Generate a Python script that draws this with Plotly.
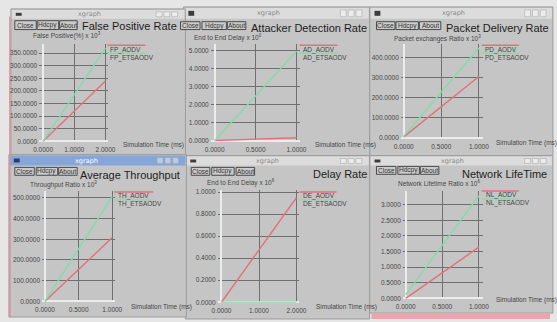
import plotly.graph_objects as go

W, H = 557, 322

# ---- series values -------------------------------------------------------
fp_time = [0, 1, 2]
fp_aodv = [0, 120, 240]
fp_etsaodv = [0, 185, 370]

ad_time = [0, 0.5, 1]
ad_aodv = [0.02, 0.09, 0.17]
ad_etsaodv = [0, 2.47, 4.95]

pd_time = [0, 0.5, 1]
pd_aodv = [5, 155, 305]
pd_etsaodv = [8, 228, 447]

th_time = [0, 0.5, 1]
th_aodv = [0, 155, 308]
th_etsaodv = [0, 254, 508]

de_time = [0, 1, 2]
de_aodv = [0, 0.475, 0.95]
de_etsaodv = [0, 0, 0]

nl_time = [0, 0.5, 1]
nl_aodv = [0, 0.82, 1.64]
nl_etsaodv = [0.12, 1.7, 3.29]

titles = ["False Positive Rate", "Attacker Detection Rate", "Packet Delivery Rate",
          "Average Throughput", "Delay Rate", "Network LifeTime"]
y_titles = ["False Positive(%) x 10<sup>3</sup>", "End to End Delay x 10<sup>0</sup>",
            "Packet exchanges Ratio x 10<sup>3</sup>", "Throughput Ratio x 10<sup>3</sup>",
            "End to End Delay x 10<sup>6</sup>", "Network Lifetime Ratio x 10<sup>6</sup>"]
x_title = "Simulation Time (ms)"
series_names = [("FP_AODV", "FP_ETSAODV"), ("AD_AODV", "AD_ETSAODV"), ("PD_AODV", "PD_ETSAODV"),
                ("TH_AODV", "TH_ETSAODV"), ("DE_AODV", "DE_ETSAODV"), ("NL_AODV", "NL_ETSAODV")]
series = [(fp_time, fp_aodv, fp_etsaodv), (ad_time, ad_aodv, ad_etsaodv),
          (pd_time, pd_aodv, pd_etsaodv), (th_time, th_aodv, th_etsaodv),
          (de_time, de_aodv, de_etsaodv), (nl_time, nl_aodv, nl_etsaodv)]
x_steps = [1, 0.5, 0.5, 0.5, 1, 0.5]
y_steps = [50, 1, 100, 100, 0.2, 0.5]

# ---- layout of each xgraph window (pixels) --------------------------------
# axis calibration: (value0, pixel0, value1, pixel1); domains: (pixel start, pixel end)
panel_geom = [
    dict(xcal=(0, 37, 2, 101), ycal=(0, 141.5, 350, 52), xdom=(33, 104), ydom=(43, 142)),
    dict(xcal=(0, 213, 1, 297), ycal=(0, 141, 5, 49), xdom=(209, 301), ydom=(43, 141.5)),
    dict(xcal=(0, 407, 1, 484), ycal=(0, 138, 400, 56.3), xdom=(404, 488), ydom=(43, 138.5)),
    dict(xcal=(0, 39, 1, 108), ycal=(0, 304, 500, 199), xdom=(36, 111), ydom=(192, 304.5)),
    dict(xcal=(0, 220, 2, 297), ycal=(0, 305, 1, 193), xdom=(216, 300), ydom=(191, 305.5)),
    dict(xcal=(0, 409, 1, 484), ycal=(0, 301, 3, 206), xdom=(406, 488), ydom=(192, 301.5)),
]
# legend: (line x0, line x1, top line y, text x)
legend_geom = [(103, 142, 44, 104), (300, 339, 44, 302), (487, 525, 44, 488),
               (110, 150, 193, 112), (300, 338, 193, 302), (487, 525, 192, 489)]
title_pos = [(75, 24), (248, 26), (448, 26.5), (73, 176), (312, 174.5), (465, 174.5)]
ytitle_pos = [(25, 34.5), (190, 36), (395, 37.5), (22, 185), (203, 183.5), (399, 183.5)]
xtitle_pos = [(117, 145), (314, 145), (500, 143), (125, 310), (315, 310), (500, 303)]
# windows: x0, y0, x1, y1, title bar bottom, active, caption centre x
windows = [
    (372, 5, 560, 156, 17, False, 458),
    (181, 5, 372, 156, 17, False, 268),
    (4, 7, 183, 160, 17, False, 85),
    (372, 156, 560, 316, 166, False, 457),
    (183, 156, 372, 322, 166, False, 267),
    (2, 155, 184, 320, 166, True, 82),
]
buttons = [
    (19, 28, [(8, 30, "Close"), (31, 53, "Hdcpy"), (54, 72, "About")]),
    (20, 28, [(178, 198, "Close"), (200, 225, "Hdcpy"), (226, 245, "About")]),
    (20, 28, [(379, 398, "Close"), (399, 422, "Hdcpy"), (423, 445, "About")]),
    (168, 176, [(8, 28, "Close"), (30, 52, "Hdcpy"), (53, 72, "About")]),
    (168, 176, [(189, 208, "Close"), (210, 233, "Hdcpy"), (235, 254, "About")]),
    (167, 175, [(379, 399, "Close"), (401, 423, "Hdcpy"), (424, 443, "About")]),
]

RED = "#e2707c"
GREEN = "#82dcaa"
BODY = "#c5c5c5"
GRID = "#6f6f6f"
TICK = "#454545"
SMALL = dict(family="Liberation Sans, Arial, sans-serif", size=6.5, color=TICK)
TITLE = dict(family="Liberation Sans, Arial, sans-serif", size=11, color="#1e1e1e")


def fx(p):
    return p / W


def fy(p):
    return 1 - p / H


def cal(c, p):
    v0, p0, v1, p1 = c
    return v0 + (p - p0) * (v1 - v0) / (p1 - p0)


fig = go.Figure()
shapes = []
annotations = []

# window frames
for (x0, y0, x1, y1, tb, active, cx) in windows:
    shapes.append(dict(type="rect", xref="paper", yref="paper", layer="below",
                       x0=fx(x0), x1=fx(x1), y0=fy(y1), y1=fy(y0),
                       fillcolor=BODY, line=dict(color="#9c9c9c", width=1)))
    shapes.append(dict(type="rect", xref="paper", yref="paper", layer="below",
                       x0=fx(x0 + 1), x1=fx(x1 - 1), y0=fy(tb), y1=fy(y0 + 1),
                       fillcolor="#86a5d8" if active else "#dcdcdc", line=dict(width=0)))
    # window icon and the three frame buttons
    shapes.append(dict(type="rect", xref="paper", yref="paper", layer="below",
                       x0=fx(x0 + 5), x1=fx(x0 + 11), y0=fy(tb - 3), y1=fy(y0 + 4),
                       fillcolor="#3c3c3c" if not active else "#2a3f66", line=dict(width=0)))
    for k in range(3):
        bx = x1 - 30 + k * 8 if x1 < W else W - 26 + k * 8
        shapes.append(dict(type="rect", xref="paper", yref="paper", layer="below",
                           x0=fx(bx), x1=fx(bx + 6), y0=fy(tb - 2), y1=fy(y0 + 3),
                           fillcolor="#b9cbea" if active else "#ececec",
                           line=dict(color="#a0a0a0", width=0.5)))
    annotations.append(dict(text="xgraph", xref="paper", yref="paper", x=fx(cx), y=fy((y0 + tb) / 2 + 0.5),
                            xanchor="center", yanchor="middle", showarrow=False,
                            font=dict(family="DejaVu Sans, sans-serif", size=6.5,
                                      color="#ffffff" if active else "#8a8a8a")))

# pink strip along the bottom right and the left frame edge
shapes.append(dict(type="rect", xref="paper", yref="paper", layer="below",
                   x0=fx(374), x1=fx(W), y0=fy(H), y1=fy(316),
                   fillcolor="#e9a4ad", line=dict(width=0)))
shapes.append(dict(type="line", xref="paper", yref="paper", layer="below",
                   x0=fx(3), x1=fx(3), y0=fy(320), y1=fy(15),
                   line=dict(color="#d88f9d", width=1.5)))

# buttons
for (by0, by1, row) in buttons:
    for (bx0, bx1, lab) in row:
        shapes.append(dict(type="rect", xref="paper", yref="paper",
                           x0=fx(bx0), x1=fx(bx1), y0=fy(by1), y1=fy(by0),
                           fillcolor="#cbcbcb", line=dict(color="#4a4a4a", width=1)))
        annotations.append(dict(text=lab, xref="paper", yref="paper",
                                x=fx((bx0 + bx1) / 2), y=fy((by0 + by1) / 2),
                                xanchor="center", yanchor="middle", showarrow=False,
                                font=dict(family="Liberation Sans, Arial, sans-serif", size=6.5, color="#333333")))

layout_axes = {}
for i, g in enumerate(panel_geom):
    n = i + 1
    xa = "xaxis" if n == 1 else f"xaxis{n}"
    ya = "yaxis" if n == 1 else f"yaxis{n}"
    xr = "x" if n == 1 else f"x{n}"
    yr = "y" if n == 1 else f"y{n}"
    xrange = [cal(g["xcal"], g["xdom"][0]), cal(g["xcal"], g["xdom"][1])]
    yrange = [cal(g["ycal"], g["ydom"][1]), cal(g["ycal"], g["ydom"][0])]
    common = dict(showgrid=True, gridcolor=GRID, gridwidth=1, zeroline=True,
                  zerolinecolor="#ececec", zerolinewidth=1.5, showline=False,
                  ticks="", tickformat=".4f", tickfont=SMALL, tick0=0, fixedrange=True)
    layout_axes[xa] = dict(common, domain=[fx(g["xdom"][0]), fx(g["xdom"][1])],
                           range=xrange, dtick=x_steps[i], anchor=yr, ticklabelstandoff=3)
    layout_axes[ya] = dict(common, domain=[fy(g["ydom"][1]), fy(g["ydom"][0])],
                           range=yrange, dtick=y_steps[i], anchor=xr, ticklabelstandoff=1)

    t, a, e = series[i]
    fig.add_trace(go.Scatter(x=t, y=a, mode="lines", line=dict(color=RED, width=1.4),
                             name=series_names[i][0], xaxis=xr, yaxis=yr, showlegend=False))
    fig.add_trace(go.Scatter(x=t, y=e, mode="lines", line=dict(color=GREEN, width=1.4),
                             name=series_names[i][1], xaxis=xr, yaxis=yr, showlegend=False))

    # xgraph style legend: a coloured rule above each name
    lx0, lx1, ly, tx = legend_geom[i]
    for k, col in enumerate([RED, GREEN]):
        yy = ly + 8 * k
        shapes.append(dict(type="line", xref="paper", yref="paper",
                           x0=fx(lx0), x1=fx(lx1), y0=fy(yy), y1=fy(yy),
                           line=dict(color=col, width=1.4)))
        annotations.append(dict(text=series_names[i][k], xref="paper", yref="paper",
                                x=fx(tx), y=fy(yy + 4.5), xanchor="left", yanchor="middle",
                                showarrow=False, font=SMALL))

    tx_, ty_ = title_pos[i]
    annotations.append(dict(text=titles[i], xref="paper", yref="paper", x=fx(tx_), y=fy(ty_),
                            xanchor="left", yanchor="middle", showarrow=False, font=TITLE))
    yx, yy_ = ytitle_pos[i]
    annotations.append(dict(text=y_titles[i], xref="paper", yref="paper", x=fx(yx), y=fy(yy_),
                            xanchor="left", yanchor="middle", showarrow=False, font=SMALL))
    xx, xy = xtitle_pos[i]
    annotations.append(dict(text=x_title, xref="paper", yref="paper", x=fx(xx), y=fy(xy),
                            xanchor="left", yanchor="middle", showarrow=False, font=SMALL))

fig.update_layout(
    width=W, height=H, autosize=False,
    margin=dict(l=0, r=0, t=0, b=0),
    paper_bgcolor="#e6e6e6", plot_bgcolor="rgba(0,0,0,0)",
    shapes=shapes, annotations=annotations, showlegend=False,
    **layout_axes,
)

fig.write_html("out.html")
